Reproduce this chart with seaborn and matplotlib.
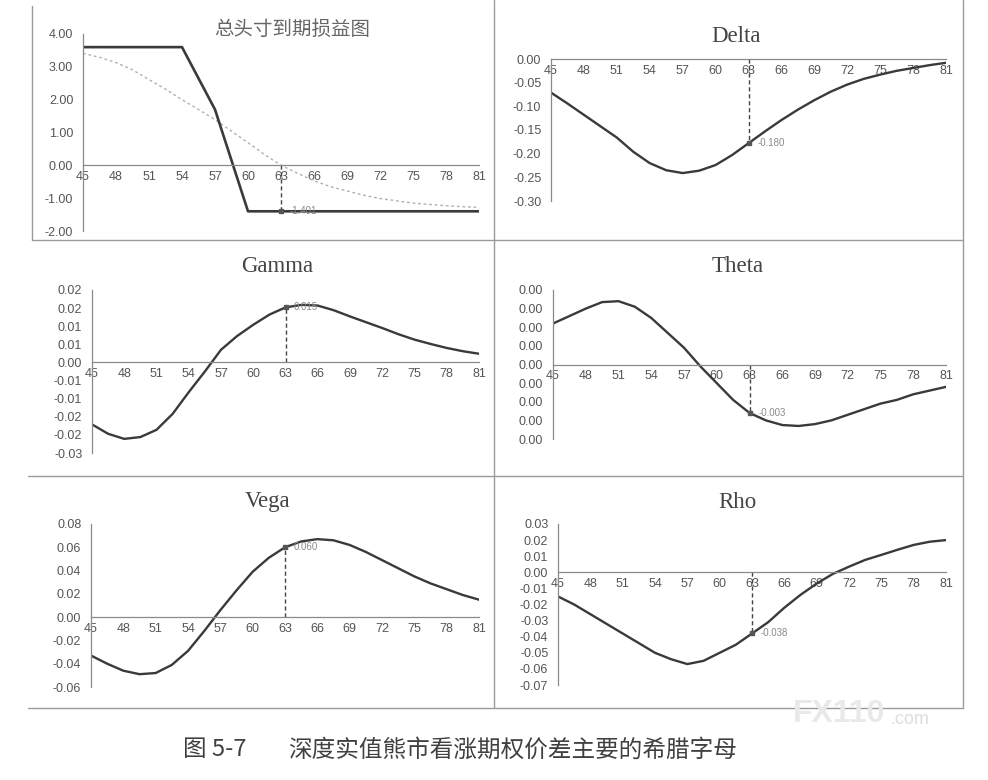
import matplotlib
matplotlib.use("Agg")
import matplotlib.pyplot as plt
import seaborn as sns
from matplotlib.lines import Line2D

sns.set_theme(style="white")
plt.rcParams['font.family'] = ['Liberation Sans', 'Noto Sans CJK SC', 'DejaVu Sans']

# underlying prices (x axis), sampled every 1.5
prices = [45, 46.5, 48, 49.5, 51, 52.5, 54, 55.5, 57, 58.5, 60, 61.5, 63,
          64.5, 66, 67.5, 69, 70.5, 72, 73.5, 75, 76.5, 78, 79.5, 81]
price_ticks = [45, 48, 51, 54, 57, 60, 63, 66, 69, 72, 75, 78, 81]

# payoff at expiry and current value of the position
expiry_prices = [45, 48, 51, 54, 57, 60, 63, 66, 69, 72, 75, 78, 81]
expiry_pnl = [3.60, 3.60, 3.60, 3.60, 1.70, -1.40, -1.40, -1.40, -1.40, -1.40, -1.40, -1.40, -1.40]
current_pnl = [3.41, 3.29, 3.13, 2.91, 2.61, 2.32, 2.00, 1.70, 1.39, 1.04, 0.69, 0.33, 0.00,
               -0.24, -0.47, -0.65, -0.78, -0.91, -1.01, -1.08, -1.15, -1.19, -1.23, -1.26, -1.28]

delta = [-0.071, -0.094, -0.118, -0.142, -0.166, -0.196, -0.220, -0.235, -0.241, -0.236,
         -0.224, -0.203, -0.178, -0.153, -0.129, -0.107, -0.087, -0.069, -0.054, -0.042,
         -0.033, -0.025, -0.019, -0.013, -0.008]
gamma = [-0.0171, -0.0197, -0.0211, -0.0206, -0.0186, -0.0142, -0.0082, -0.0025, 0.0035, 0.0073,
         0.0104, 0.0132, 0.0152, 0.0159, 0.0157, 0.0144, 0.0127, 0.0111, 0.0095, 0.0078,
         0.0063, 0.0051, 0.0040, 0.0031, 0.0024]
theta = [0.0022, 0.0026, 0.0030, 0.00335, 0.0034, 0.0031, 0.0025, 0.0017, 0.0009, -0.0001,
         -0.0010, -0.0019, -0.0026, -0.0030, -0.00325, -0.0033, -0.0032, -0.0030, -0.0027, -0.0024,
         -0.0021, -0.0019, -0.0016, -0.0014, -0.0012]
vega = [-0.033, -0.040, -0.046, -0.049, -0.048, -0.041, -0.029, -0.012, 0.006, 0.023,
        0.039, 0.051, 0.060, 0.065, 0.067, 0.066, 0.062, 0.056, 0.049, 0.042,
        0.035, 0.029, 0.024, 0.019, 0.015]
rho = [-0.015, -0.020, -0.026, -0.032, -0.038, -0.044, -0.050, -0.054, -0.057, -0.055,
       -0.050, -0.045, -0.038, -0.031, -0.022, -0.014, -0.007, -0.001, 0.0035, 0.0077,
       0.0108, 0.014, 0.017, 0.019, 0.020]

# point values written next to the marker at price 63
mark_price = 63
pnl_label = "-1.401"
delta_label = "-0.180"
gamma_label = "0.015"
theta_label = "-0.003"
vega_label = "0.060"
rho_label = "-0.038"

# y tick labels as printed in the source
pnl_yticks = [-2, -1, 0, 1, 2, 3, 4]
pnl_ylabels = ["-2.00", "-1.00", "0.00", "1.00", "2.00", "3.00", "4.00"]
delta_yticks = [-0.30, -0.25, -0.20, -0.15, -0.10, -0.05, 0.0]
delta_ylabels = ["-0.30", "-0.25", "-0.20", "-0.15", "-0.10", "-0.05", "0.00"]
gamma_yticks = [-0.025, -0.02, -0.015, -0.01, -0.005, 0.0, 0.005, 0.01, 0.015, 0.02]
gamma_ylabels = ["-0.03", "-0.02", "-0.02", "-0.01", "-0.01", "0.00", "0.01", "0.01", "0.02", "0.02"]
theta_yticks = [-0.004, -0.003, -0.002, -0.001, 0.0, 0.001, 0.002, 0.003, 0.004]
theta_ylabels = ["0.00"] * 9
vega_yticks = [-0.06, -0.04, -0.02, 0.0, 0.02, 0.04, 0.06, 0.08]
vega_ylabels = ["-0.06", "-0.04", "-0.02", "0.00", "0.02", "0.04", "0.06", "0.08"]
rho_yticks = [-0.07, -0.06, -0.05, -0.04, -0.03, -0.02, -0.01, 0.0, 0.01, 0.02, 0.03]
rho_ylabels = ["-0.07", "-0.06", "-0.05", "-0.04", "-0.03", "-0.02", "-0.01", "0.00", "0.01", "0.02", "0.03"]

W, H = 988, 780
fig = plt.figure(figsize=(W / 100, H / 100), dpi=100)
fig.patch.set_facecolor("white")

LINE = "#3a3a3a"
AXIS = "#8a8a8a"
TICK_TXT = "#555555"


def px_rect(x0, y0, x1, y1):
    return [x0 / W, 1 - y1 / H, (x1 - x0) / W, (y1 - y0) / H]


def setup_axes(rect, ylim, yticks, ylabels):
    ax = fig.add_axes(rect)
    ax.set_facecolor("none")
    ax.set_xlim(45, 81)
    ax.set_ylim(*ylim)
    for s in ["top", "right"]:
        ax.spines[s].set_visible(False)
    ax.spines["bottom"].set_position(("data", 0))
    for s in ["left", "bottom"]:
        ax.spines[s].set_color(AXIS)
        ax.spines[s].set_linewidth(0.9)
    ax.set_xticks(price_ticks)
    ax.set_xticklabels([str(t) for t in price_ticks])
    ax.set_yticks(yticks)
    ax.set_yticklabels(ylabels)
    ax.tick_params(axis="x", direction="inout", length=4, width=0.8, colors=AXIS,
                   labelcolor=TICK_TXT, labelsize=9, pad=2)
    ax.tick_params(axis="y", direction="out", length=3, width=0.8, colors=AXIS,
                   labelcolor=TICK_TXT, labelsize=9, pad=4)
    ax.grid(False)
    ax.set_xlabel("")
    ax.set_ylabel("")
    return ax


def mark(ax, values, xs, text, dx=0.8):
    v = values[xs.index(mark_price)]
    ax.vlines(mark_price, 0, v, colors="#444444", linestyles=(0, (3, 2)), lw=1.0)
    ax.plot([mark_price], [v], marker="s", ms=2.5, color="#555555")
    ax.text(mark_price + dx, v, text, fontsize=7, color="#8a8a8a", va="center", ha="left")


def greek_panel(rect, values, ylim, yticks, ylabels, label, title, tx, ty):
    ax = setup_axes(rect, ylim, yticks, ylabels)
    sns.lineplot(x=prices, y=values, ax=ax, color=LINE, lw=1.7,
                 solid_joinstyle="round", solid_capstyle="round")
    mark(ax, values, prices, label)
    fig.text(tx / W, 1 - ty / H, title, ha="center", va="center", fontsize=16.5,
             family=["Liberation Serif"], color="#444444")
    return ax


# panel 1: payoff
ax1 = setup_axes(px_rect(83, 34, 479, 231), (-2, 4), pnl_yticks, pnl_ylabels)
sns.lineplot(x=prices, y=current_pnl, ax=ax1, color="#b0b0b0", lw=1.0, linestyle=(0, (2, 2)))
sns.lineplot(x=expiry_prices, y=expiry_pnl, ax=ax1, color=LINE, lw=1.9)
mark(ax1, expiry_pnl, expiry_prices, pnl_label)
fig.text(292 / W, 1 - 29 / H, "总头寸到期损益图", ha="center", va="center", fontsize=14,
         family=["Noto Sans CJK SC"], color="#666666")

greek_panel(px_rect(551, 59, 946, 201), delta, (-0.30, 0.0), delta_yticks, delta_ylabels,
            delta_label, "Delta", 736, 36)
greek_panel(px_rect(92, 290, 479, 453), gamma, (-0.025, 0.02), gamma_yticks, gamma_ylabels,
            gamma_label, "Gamma", 277, 267)
greek_panel(px_rect(553, 290, 946, 439), theta, (-0.004, 0.004), theta_yticks, theta_ylabels,
            theta_label, "Theta", 738, 266)
greek_panel(px_rect(91, 524, 479, 687), vega, (-0.06, 0.08), vega_yticks, vega_ylabels,
            vega_label, "Vega", 268, 502)
greek_panel(px_rect(558, 524, 946, 685), rho, (-0.07, 0.03), rho_yticks, rho_ylabels,
            rho_label, "Rho", 737, 502)


# panel borders
def fline(x0, y0, x1, y1):
    fig.add_artist(Line2D([x0 / W, x1 / W], [1 - y0 / H, 1 - y1 / H],
                          transform=fig.transFigure, color="#9a9a9a", lw=1.0))


fline(32, 6, 32, 240)
fline(32, 240, 963, 240)
fline(28, 476, 963, 476)
fline(28, 708, 963, 708)
fline(494, 0, 494, 708)
fline(963, 0, 963, 708)

# watermark
fig.text(793 / W, 1 - 714 / H, "FX110", fontsize=23, fontweight="bold", color="#e9e9e9",
         ha="left", va="center")
fig.text(890 / W, 1 - 720 / H, ".com", fontsize=13, color="#dedede", ha="left", va="center")

# caption
fig.text(183 / W, 1 - 750 / H, "图 5-7", fontsize=17, family=["Noto Sans CJK SC"],
         color="#404040", ha="left", va="center")
fig.text(288 / W, 1 - 750 / H, "深度实值熊市看涨期权价差主要的希腊字母", fontsize=17,
         family=["Noto Sans CJK SC"], color="#404040", ha="left", va="center")

fig.savefig("out.png", dpi=100)
